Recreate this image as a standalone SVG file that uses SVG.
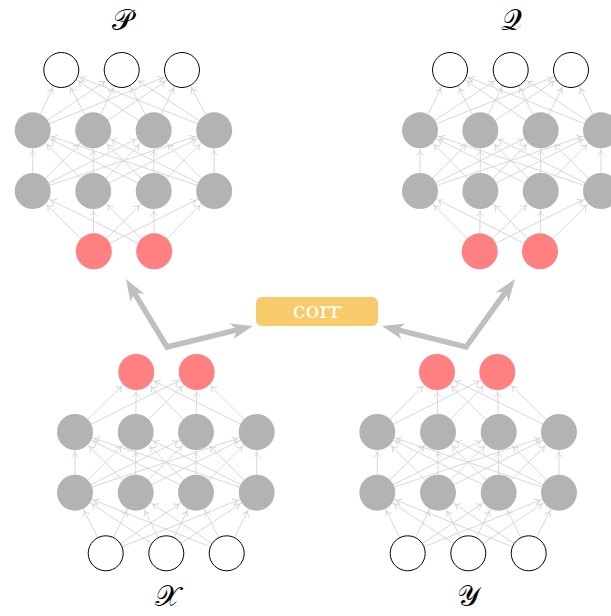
<svg xmlns="http://www.w3.org/2000/svg" width="611" height="616" viewBox="0 0 611 616">
  <style>
    .e{stroke:#d2d2d2;stroke-width:0.9;fill:none;marker-end:url(#tip)}
    .hid{fill:#b3b3b3}
    .lat{fill:#ff8080}
    .obs{fill:#ffffff;stroke:#000000;stroke-width:1}
    .lbl{font-family:"DejaVu Serif","Liberation Serif",serif;font-size:29px;font-weight:normal;fill:#000000;text-anchor:middle}
    .big{fill:none;stroke:#bfbfbf;stroke-width:5.5;stroke-linejoin:miter;marker-start:url(#bigtip);marker-end:url(#bigtip)}
  </style>
  <defs>
    <!-- small open tip, drawn 20.5px before the line end so it sits on the node rim -->
    <marker id="tip" markerUnits="userSpaceOnUse" orient="auto" refX="20.5" refY="0" markerWidth="10" markerHeight="10" overflow="visible">
      <path d="M-4.5,-3.2 Q-1.8,-0.6 0,0 Q-1.8,0.6 -4.5,3.2" fill="none" stroke="#d2d2d2" stroke-width="0.9" stroke-linecap="round"/>
    </marker>
    <!-- heavy stealth tip for the correlation arrows -->
    <marker id="bigtip" markerUnits="userSpaceOnUse" orient="auto-start-reverse" refX="-12" refY="0" markerWidth="30" markerHeight="20" overflow="visible">
      <path d="M0,0 L-22,-8 L-16,0 L-22,8 Z" fill="#bfbfbf"/>
    </marker>
  </defs>

  <g id="connectors">
    <!-- top-left network: latent -> hidden -> hidden -> output -->
    <line class="e" x1="93.8" y1="251.3" x2="32.7" y2="191"/>
    <line class="e" x1="93.8" y1="251.3" x2="93.2" y2="191"/>
    <line class="e" x1="93.8" y1="251.3" x2="153.7" y2="191"/>
    <line class="e" x1="93.8" y1="251.3" x2="214.2" y2="191"/>
    <line class="e" x1="154.2" y1="251.3" x2="32.7" y2="191"/>
    <line class="e" x1="154.2" y1="251.3" x2="93.2" y2="191"/>
    <line class="e" x1="154.2" y1="251.3" x2="153.7" y2="191"/>
    <line class="e" x1="154.2" y1="251.3" x2="214.2" y2="191"/>

    <line class="e" x1="32.7" y1="191" x2="32.7" y2="130.3"/>
    <line class="e" x1="32.7" y1="191" x2="93.2" y2="130.3"/>
    <line class="e" x1="32.7" y1="191" x2="153.7" y2="130.3"/>
    <line class="e" x1="32.7" y1="191" x2="214.2" y2="130.3"/>
    <line class="e" x1="93.2" y1="191" x2="32.7" y2="130.3"/>
    <line class="e" x1="93.2" y1="191" x2="93.2" y2="130.3"/>
    <line class="e" x1="93.2" y1="191" x2="153.7" y2="130.3"/>
    <line class="e" x1="93.2" y1="191" x2="214.2" y2="130.3"/>
    <line class="e" x1="153.7" y1="191" x2="32.7" y2="130.3"/>
    <line class="e" x1="153.7" y1="191" x2="93.2" y2="130.3"/>
    <line class="e" x1="153.7" y1="191" x2="153.7" y2="130.3"/>
    <line class="e" x1="153.7" y1="191" x2="214.2" y2="130.3"/>
    <line class="e" x1="214.2" y1="191" x2="32.7" y2="130.3"/>
    <line class="e" x1="214.2" y1="191" x2="93.2" y2="130.3"/>
    <line class="e" x1="214.2" y1="191" x2="153.7" y2="130.3"/>
    <line class="e" x1="214.2" y1="191" x2="214.2" y2="130.3"/>

    <line class="e" x1="32.7" y1="130.3" x2="61.3" y2="70"/>
    <line class="e" x1="32.7" y1="130.3" x2="121.7" y2="70"/>
    <line class="e" x1="32.7" y1="130.3" x2="182" y2="70"/>
    <line class="e" x1="93.2" y1="130.3" x2="61.3" y2="70"/>
    <line class="e" x1="93.2" y1="130.3" x2="121.7" y2="70"/>
    <line class="e" x1="93.2" y1="130.3" x2="182" y2="70"/>
    <line class="e" x1="153.7" y1="130.3" x2="61.3" y2="70"/>
    <line class="e" x1="153.7" y1="130.3" x2="121.7" y2="70"/>
    <line class="e" x1="153.7" y1="130.3" x2="182" y2="70"/>
    <line class="e" x1="214.2" y1="130.3" x2="61.3" y2="70"/>
    <line class="e" x1="214.2" y1="130.3" x2="121.7" y2="70"/>
    <line class="e" x1="214.2" y1="130.3" x2="182" y2="70"/>

    <!-- top-right network -->
    <line class="e" x1="479.7" y1="251.3" x2="420" y2="191"/>
    <line class="e" x1="479.7" y1="251.3" x2="480.3" y2="191"/>
    <line class="e" x1="479.7" y1="251.3" x2="540.7" y2="191"/>
    <line class="e" x1="479.7" y1="251.3" x2="601" y2="191"/>
    <line class="e" x1="540" y1="251.3" x2="420" y2="191"/>
    <line class="e" x1="540" y1="251.3" x2="480.3" y2="191"/>
    <line class="e" x1="540" y1="251.3" x2="540.7" y2="191"/>
    <line class="e" x1="540" y1="251.3" x2="601" y2="191"/>

    <line class="e" x1="420" y1="191" x2="420" y2="130.3"/>
    <line class="e" x1="420" y1="191" x2="480.3" y2="130.3"/>
    <line class="e" x1="420" y1="191" x2="540.7" y2="130.3"/>
    <line class="e" x1="420" y1="191" x2="601" y2="130.3"/>
    <line class="e" x1="480.3" y1="191" x2="420" y2="130.3"/>
    <line class="e" x1="480.3" y1="191" x2="480.3" y2="130.3"/>
    <line class="e" x1="480.3" y1="191" x2="540.7" y2="130.3"/>
    <line class="e" x1="480.3" y1="191" x2="601" y2="130.3"/>
    <line class="e" x1="540.7" y1="191" x2="420" y2="130.3"/>
    <line class="e" x1="540.7" y1="191" x2="480.3" y2="130.3"/>
    <line class="e" x1="540.7" y1="191" x2="540.7" y2="130.3"/>
    <line class="e" x1="540.7" y1="191" x2="601" y2="130.3"/>
    <line class="e" x1="601" y1="191" x2="420" y2="130.3"/>
    <line class="e" x1="601" y1="191" x2="480.3" y2="130.3"/>
    <line class="e" x1="601" y1="191" x2="540.7" y2="130.3"/>
    <line class="e" x1="601" y1="191" x2="601" y2="130.3"/>

    <line class="e" x1="420" y1="130.3" x2="450" y2="70"/>
    <line class="e" x1="420" y1="130.3" x2="510.7" y2="70"/>
    <line class="e" x1="420" y1="130.3" x2="571" y2="70"/>
    <line class="e" x1="480.3" y1="130.3" x2="450" y2="70"/>
    <line class="e" x1="480.3" y1="130.3" x2="510.7" y2="70"/>
    <line class="e" x1="480.3" y1="130.3" x2="571" y2="70"/>
    <line class="e" x1="540.7" y1="130.3" x2="450" y2="70"/>
    <line class="e" x1="540.7" y1="130.3" x2="510.7" y2="70"/>
    <line class="e" x1="540.7" y1="130.3" x2="571" y2="70"/>
    <line class="e" x1="601" y1="130.3" x2="450" y2="70"/>
    <line class="e" x1="601" y1="130.3" x2="510.7" y2="70"/>
    <line class="e" x1="601" y1="130.3" x2="571" y2="70"/>

    <!-- bottom-left network: input -> hidden -> hidden -> latent -->
    <line class="e" x1="105.7" y1="553.3" x2="75" y2="492.7"/>
    <line class="e" x1="105.7" y1="553.3" x2="135.7" y2="492.7"/>
    <line class="e" x1="105.7" y1="553.3" x2="196" y2="492.7"/>
    <line class="e" x1="105.7" y1="553.3" x2="256.7" y2="492.7"/>
    <line class="e" x1="166.3" y1="553.3" x2="75" y2="492.7"/>
    <line class="e" x1="166.3" y1="553.3" x2="135.7" y2="492.7"/>
    <line class="e" x1="166.3" y1="553.3" x2="196" y2="492.7"/>
    <line class="e" x1="166.3" y1="553.3" x2="256.7" y2="492.7"/>
    <line class="e" x1="226.7" y1="553.3" x2="75" y2="492.7"/>
    <line class="e" x1="226.7" y1="553.3" x2="135.7" y2="492.7"/>
    <line class="e" x1="226.7" y1="553.3" x2="196" y2="492.7"/>
    <line class="e" x1="226.7" y1="553.3" x2="256.7" y2="492.7"/>

    <line class="e" x1="75" y1="492.7" x2="75" y2="432"/>
    <line class="e" x1="75" y1="492.7" x2="135.7" y2="432"/>
    <line class="e" x1="75" y1="492.7" x2="196" y2="432"/>
    <line class="e" x1="75" y1="492.7" x2="256.7" y2="432"/>
    <line class="e" x1="135.7" y1="492.7" x2="75" y2="432"/>
    <line class="e" x1="135.7" y1="492.7" x2="135.7" y2="432"/>
    <line class="e" x1="135.7" y1="492.7" x2="196" y2="432"/>
    <line class="e" x1="135.7" y1="492.7" x2="256.7" y2="432"/>
    <line class="e" x1="196" y1="492.7" x2="75" y2="432"/>
    <line class="e" x1="196" y1="492.7" x2="135.7" y2="432"/>
    <line class="e" x1="196" y1="492.7" x2="196" y2="432"/>
    <line class="e" x1="196" y1="492.7" x2="256.7" y2="432"/>
    <line class="e" x1="256.7" y1="492.7" x2="75" y2="432"/>
    <line class="e" x1="256.7" y1="492.7" x2="135.7" y2="432"/>
    <line class="e" x1="256.7" y1="492.7" x2="196" y2="432"/>
    <line class="e" x1="256.7" y1="492.7" x2="256.7" y2="432"/>

    <line class="e" x1="75" y1="432" x2="136.3" y2="372"/>
    <line class="e" x1="75" y1="432" x2="196.7" y2="372"/>
    <line class="e" x1="135.7" y1="432" x2="136.3" y2="372"/>
    <line class="e" x1="135.7" y1="432" x2="196.7" y2="372"/>
    <line class="e" x1="196" y1="432" x2="136.3" y2="372"/>
    <line class="e" x1="196" y1="432" x2="196.7" y2="372"/>
    <line class="e" x1="256.7" y1="432" x2="136.3" y2="372"/>
    <line class="e" x1="256.7" y1="432" x2="196.7" y2="372"/>

    <!-- bottom-right network -->
    <line class="e" x1="407.7" y1="553.3" x2="377.3" y2="492.7"/>
    <line class="e" x1="407.7" y1="553.3" x2="438" y2="492.7"/>
    <line class="e" x1="407.7" y1="553.3" x2="498.7" y2="492.7"/>
    <line class="e" x1="407.7" y1="553.3" x2="559" y2="492.7"/>
    <line class="e" x1="468.3" y1="553.3" x2="377.3" y2="492.7"/>
    <line class="e" x1="468.3" y1="553.3" x2="438" y2="492.7"/>
    <line class="e" x1="468.3" y1="553.3" x2="498.7" y2="492.7"/>
    <line class="e" x1="468.3" y1="553.3" x2="559" y2="492.7"/>
    <line class="e" x1="528.7" y1="553.3" x2="377.3" y2="492.7"/>
    <line class="e" x1="528.7" y1="553.3" x2="438" y2="492.7"/>
    <line class="e" x1="528.7" y1="553.3" x2="498.7" y2="492.7"/>
    <line class="e" x1="528.7" y1="553.3" x2="559" y2="492.7"/>

    <line class="e" x1="377.3" y1="492.7" x2="377.3" y2="432"/>
    <line class="e" x1="377.3" y1="492.7" x2="438" y2="432"/>
    <line class="e" x1="377.3" y1="492.7" x2="498.7" y2="432"/>
    <line class="e" x1="377.3" y1="492.7" x2="559" y2="432"/>
    <line class="e" x1="438" y1="492.7" x2="377.3" y2="432"/>
    <line class="e" x1="438" y1="492.7" x2="438" y2="432"/>
    <line class="e" x1="438" y1="492.7" x2="498.7" y2="432"/>
    <line class="e" x1="438" y1="492.7" x2="559" y2="432"/>
    <line class="e" x1="498.7" y1="492.7" x2="377.3" y2="432"/>
    <line class="e" x1="498.7" y1="492.7" x2="438" y2="432"/>
    <line class="e" x1="498.7" y1="492.7" x2="498.7" y2="432"/>
    <line class="e" x1="498.7" y1="492.7" x2="559" y2="432"/>
    <line class="e" x1="559" y1="492.7" x2="377.3" y2="432"/>
    <line class="e" x1="559" y1="492.7" x2="438" y2="432"/>
    <line class="e" x1="559" y1="492.7" x2="498.7" y2="432"/>
    <line class="e" x1="559" y1="492.7" x2="559" y2="432"/>

    <line class="e" x1="377.3" y1="432" x2="437" y2="372"/>
    <line class="e" x1="377.3" y1="432" x2="497.3" y2="372"/>
    <line class="e" x1="438" y1="432" x2="437" y2="372"/>
    <line class="e" x1="438" y1="432" x2="497.3" y2="372"/>
    <line class="e" x1="498.7" y1="432" x2="437" y2="372"/>
    <line class="e" x1="498.7" y1="432" x2="497.3" y2="372"/>
    <line class="e" x1="559" y1="432" x2="437" y2="372"/>
    <line class="e" x1="559" y1="432" x2="497.3" y2="372"/>

    <!-- correlation arrows from the two latent layers -->
    <path class="big" d="M132.2,289.3 L167,347 L241.3,328.8"/>
    <path class="big" d="M508,288.7 L466,347 L393.6,328.9"/>
  </g>

  <!-- top-left network nodes -->
  <g id="tl-out-1"><circle class="obs" cx="61.3" cy="70" r="17.5"/></g>
  <g id="tl-out-2"><circle class="obs" cx="121.7" cy="70" r="17.5"/></g>
  <g id="tl-out-3"><circle class="obs" cx="182" cy="70" r="17.5"/></g>
  <g id="tl-h1-1"><circle class="hid" cx="32.7" cy="130.3" r="18"/></g>
  <g id="tl-h1-2"><circle class="hid" cx="93.2" cy="130.3" r="18"/></g>
  <g id="tl-h1-3"><circle class="hid" cx="153.7" cy="130.3" r="18"/></g>
  <g id="tl-h1-4"><circle class="hid" cx="214.2" cy="130.3" r="18"/></g>
  <g id="tl-h2-1"><circle class="hid" cx="32.7" cy="191" r="18"/></g>
  <g id="tl-h2-2"><circle class="hid" cx="93.2" cy="191" r="18"/></g>
  <g id="tl-h2-3"><circle class="hid" cx="153.7" cy="191" r="18"/></g>
  <g id="tl-h2-4"><circle class="hid" cx="214.2" cy="191" r="18"/></g>
  <g id="tl-lat-1"><circle class="lat" cx="93.8" cy="251.3" r="18"/></g>
  <g id="tl-lat-2"><circle class="lat" cx="154.2" cy="251.3" r="18"/></g>

  <!-- top-right network nodes -->
  <g id="tr-out-1"><circle class="obs" cx="450" cy="70" r="17.5"/></g>
  <g id="tr-out-2"><circle class="obs" cx="510.7" cy="70" r="17.5"/></g>
  <g id="tr-out-3"><circle class="obs" cx="571" cy="70" r="17.5"/></g>
  <g id="tr-h1-1"><circle class="hid" cx="420" cy="130.3" r="18"/></g>
  <g id="tr-h1-2"><circle class="hid" cx="480.3" cy="130.3" r="18"/></g>
  <g id="tr-h1-3"><circle class="hid" cx="540.7" cy="130.3" r="18"/></g>
  <g id="tr-h1-4"><circle class="hid" cx="601" cy="130.3" r="18"/></g>
  <g id="tr-h2-1"><circle class="hid" cx="420" cy="191" r="18"/></g>
  <g id="tr-h2-2"><circle class="hid" cx="480.3" cy="191" r="18"/></g>
  <g id="tr-h2-3"><circle class="hid" cx="540.7" cy="191" r="18"/></g>
  <g id="tr-h2-4"><circle class="hid" cx="601" cy="191" r="18"/></g>
  <g id="tr-lat-1"><circle class="lat" cx="479.7" cy="251.3" r="18"/></g>
  <g id="tr-lat-2"><circle class="lat" cx="540" cy="251.3" r="18"/></g>

  <!-- bottom-left network nodes -->
  <g id="bl-lat-1"><circle class="lat" cx="136.3" cy="372" r="18"/></g>
  <g id="bl-lat-2"><circle class="lat" cx="196.7" cy="372" r="18"/></g>
  <g id="bl-h1-1"><circle class="hid" cx="75" cy="432" r="18"/></g>
  <g id="bl-h1-2"><circle class="hid" cx="135.7" cy="432" r="18"/></g>
  <g id="bl-h1-3"><circle class="hid" cx="196" cy="432" r="18"/></g>
  <g id="bl-h1-4"><circle class="hid" cx="256.7" cy="432" r="18"/></g>
  <g id="bl-h2-1"><circle class="hid" cx="75" cy="492.7" r="18"/></g>
  <g id="bl-h2-2"><circle class="hid" cx="135.7" cy="492.7" r="18"/></g>
  <g id="bl-h2-3"><circle class="hid" cx="196" cy="492.7" r="18"/></g>
  <g id="bl-h2-4"><circle class="hid" cx="256.7" cy="492.7" r="18"/></g>
  <g id="bl-in-1"><circle class="obs" cx="105.7" cy="553.3" r="17.5"/></g>
  <g id="bl-in-2"><circle class="obs" cx="166.3" cy="553.3" r="17.5"/></g>
  <g id="bl-in-3"><circle class="obs" cx="226.7" cy="553.3" r="17.5"/></g>

  <!-- bottom-right network nodes -->
  <g id="br-lat-1"><circle class="lat" cx="437" cy="372" r="18"/></g>
  <g id="br-lat-2"><circle class="lat" cx="497.3" cy="372" r="18"/></g>
  <g id="br-h1-1"><circle class="hid" cx="377.3" cy="432" r="18"/></g>
  <g id="br-h1-2"><circle class="hid" cx="438" cy="432" r="18"/></g>
  <g id="br-h1-3"><circle class="hid" cx="498.7" cy="432" r="18"/></g>
  <g id="br-h1-4"><circle class="hid" cx="559" cy="432" r="18"/></g>
  <g id="br-h2-1"><circle class="hid" cx="377.3" cy="492.7" r="18"/></g>
  <g id="br-h2-2"><circle class="hid" cx="438" cy="492.7" r="18"/></g>
  <g id="br-h2-3"><circle class="hid" cx="498.7" cy="492.7" r="18"/></g>
  <g id="br-h2-4"><circle class="hid" cx="559" cy="492.7" r="18"/></g>
  <g id="br-in-1"><circle class="obs" cx="407.7" cy="553.3" r="17.5"/></g>
  <g id="br-in-2"><circle class="obs" cx="468.3" cy="553.3" r="17.5"/></g>
  <g id="br-in-3"><circle class="obs" cx="528.7" cy="553.3" r="17.5"/></g>

  <!-- correlation box -->
  <g id="corr">
    <rect x="256" y="297" width="122" height="29" rx="6" ry="6" fill="#f7ca6b"/>
    <text x="317" y="317.5" font-family="DejaVu Serif, serif" font-size="23" fill="#ffffff" text-anchor="middle">corr</text>
  </g>

  <!-- distribution labels -->
  <g id="label-p"><text class="lbl" x="122" y="30">𝒫</text></g>
  <g id="label-q"><text class="lbl" x="511" y="30">𝒬</text></g>
  <g id="label-x"><text class="lbl" x="167" y="606">𝒳</text></g>
  <g id="label-y"><text class="lbl" x="468" y="606">𝒴</text></g>
</svg>
